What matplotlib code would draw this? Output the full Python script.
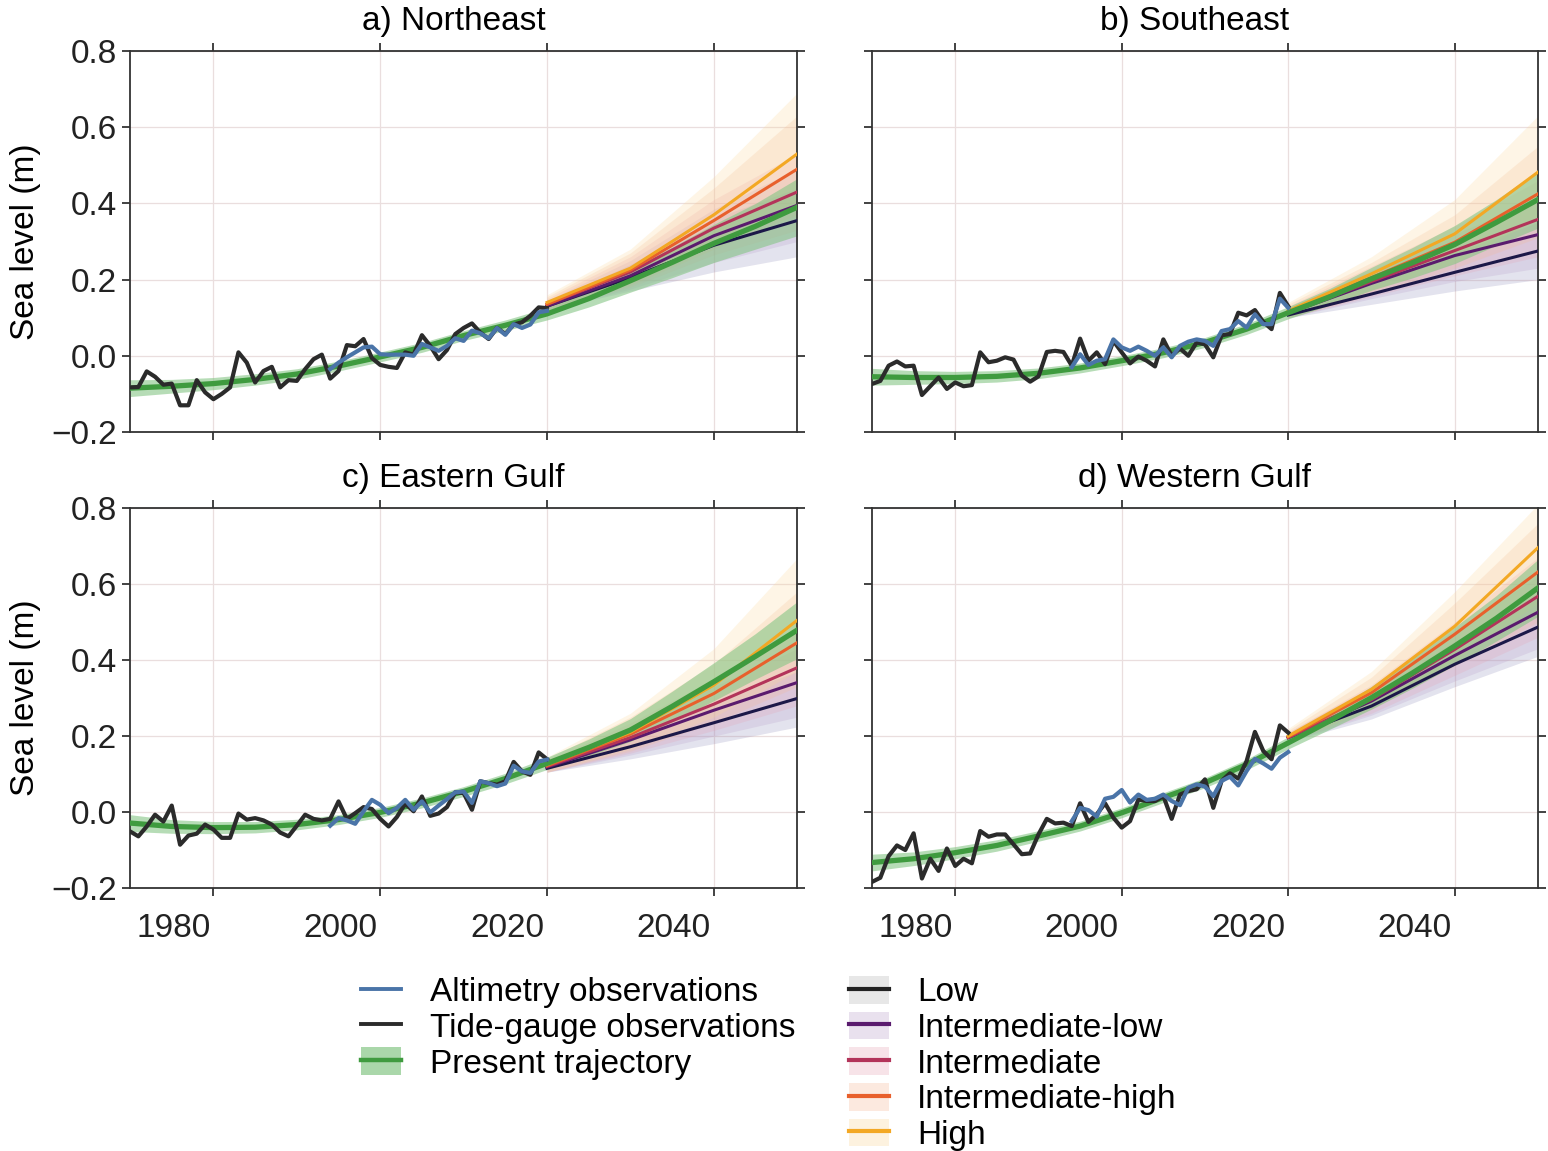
import matplotlib
matplotlib.use('Agg')
import matplotlib.pyplot as plt
import matplotlib.transforms as mtransforms
import numpy as np
from matplotlib.lines import Line2D
from matplotlib.patches import Patch
from matplotlib.legend_handler import HandlerTuple

plt.rcParams['font.family'] = ['Liberation Sans', 'DejaVu Sans']

# years
tide_years = np.arange(1970, 2021)
alt_years = np.arange(1994, 2021)
traj_years = np.arange(1970, 2051, 5)
proj_years = [2020, 2030, 2040, 2050]

# tide gauge observations (m), 1970-2020
ne_tide = [-0.083, -0.082, -0.041, -0.055, -0.076, -0.073, -0.13, -0.13, -0.064, -0.096,
           -0.114, -0.10, -0.083, 0.009, -0.018, -0.07, -0.04, -0.029, -0.083, -0.064,
           -0.066, -0.035, -0.009, 0.003, -0.06, -0.04, 0.028, 0.025, 0.044, -0.006,
           -0.024, -0.029, -0.032, 0.009, 0.003, 0.054, 0.026, -0.009, 0.015, 0.057,
           0.073, 0.085, 0.061, 0.044, 0.073, 0.057, 0.082, 0.088, 0.105, 0.127, 0.125]
se_tide = [-0.074, -0.066, -0.026, -0.015, -0.028, -0.026, -0.103, -0.08, -0.057, -0.087,
           -0.07, -0.08, -0.077, 0.009, -0.017, -0.013, -0.004, -0.01, -0.052, -0.068,
           -0.054, 0.01, 0.013, 0.01, -0.026, 0.045, -0.013, 0.009, -0.022, 0.039,
           0.009, -0.02, -0.002, -0.013, -0.028, 0.043, 0.0, 0.019, 0.0, 0.035,
           0.03, -0.004, 0.054, 0.057, 0.113, 0.106, 0.12, 0.089, 0.07, 0.165, 0.13]
eg_tide = [-0.051, -0.064, -0.038, -0.007, -0.025, 0.017, -0.086, -0.062, -0.057, -0.033,
           -0.046, -0.068, -0.068, -0.004, -0.02, -0.016, -0.022, -0.033, -0.054, -0.064,
           -0.036, -0.007, -0.018, -0.022, -0.018, 0.028, -0.018, -0.003, 0.013, 0.008,
           -0.018, -0.038, -0.013, 0.022, 0.002, 0.041, -0.01, -0.004, 0.013, 0.052,
           0.05, 0.006, 0.081, 0.076, 0.072, 0.081, 0.132, 0.107, 0.098, 0.157, 0.139]
wg_tide = [-0.184, -0.173, -0.116, -0.088, -0.1, -0.056, -0.175, -0.123, -0.155, -0.096,
           -0.142, -0.123, -0.135, -0.05, -0.065, -0.059, -0.059, -0.085, -0.111, -0.109,
           -0.059, -0.018, -0.03, -0.028, -0.037, 0.023, -0.026, -0.006, 0.023, -0.015,
           -0.041, -0.024, 0.033, 0.029, 0.029, 0.042, -0.018, 0.046, 0.055, 0.06,
           0.086, 0.011, 0.082, 0.102, 0.088, 0.134, 0.211, 0.161, 0.139, 0.228, 0.209]

# altimetry observations (m), 1994-2020
ne_alt = [-0.035, -0.018, -0.004, 0.009, 0.022, 0.024, 0.004, 0.003, 0.003, 0.003, 0.0,
          0.031, 0.022, 0.013, 0.026, 0.046, 0.039, 0.066, 0.059, 0.046, 0.073, 0.055,
          0.083, 0.073, 0.082, 0.114, 0.118]
se_alt = [-0.03, 0.004, -0.024, -0.013, -0.009, 0.043, 0.022, 0.013, 0.024, 0.013, 0.0,
          0.022, -0.004, 0.026, 0.037, 0.043, 0.039, 0.026, 0.065, 0.07, 0.091, 0.074,
          0.109, 0.083, 0.083, 0.15, 0.126]
eg_alt = [-0.036, -0.016, -0.022, -0.031, 0.002, 0.032, 0.019, -0.003, 0.011, 0.032, 0.006,
          0.028, -0.001, 0.017, 0.034, 0.052, 0.054, 0.024, 0.081, 0.076, 0.068, 0.075,
          0.122, 0.107, 0.103, 0.133, 0.138]
wg_alt = [-0.024, 0.011, 0.005, -0.012, 0.035, 0.04, 0.058, 0.025, 0.046, 0.032, 0.035,
          0.046, 0.029, 0.018, 0.064, 0.073, 0.067, 0.042, 0.082, 0.093, 0.07, 0.108,
          0.14, 0.128, 0.114, 0.143, 0.158]

# present trajectory (m), every 5 years 1970-2050
ne_traj = [-0.085, -0.08, -0.073, -0.062, -0.048, -0.027, -0.003, 0.022, 0.053, 0.08,
           0.11, 0.15, 0.197, 0.245, 0.295, 0.34, 0.39]
se_traj = [-0.055, -0.057, -0.057, -0.054, -0.046, -0.032, -0.013, 0.008, 0.035, 0.07,
           0.113, 0.155, 0.202, 0.245, 0.292, 0.35, 0.41]
eg_traj = [-0.029, -0.038, -0.041, -0.04, -0.033, -0.02, -0.001, 0.024, 0.054, 0.088,
           0.128, 0.17, 0.216, 0.278, 0.343, 0.41, 0.479]
wg_traj = [-0.133, -0.123, -0.107, -0.088, -0.063, -0.037, -0.002, 0.038, 0.077, 0.125,
           0.182, 0.24, 0.301, 0.367, 0.437, 0.51, 0.59]
traj_halfwidth = [0.022, 0.018, 0.016, 0.015, 0.014, 0.013, 0.013, 0.013, 0.013, 0.014,
                  0.016, 0.022, 0.03, 0.04, 0.05, 0.06, 0.075]

# scenario projections: rows = Low, Int-low, Intermediate, Int-high, High
scenarios = ['Low', 'Intermediate-low', 'Intermediate', 'Intermediate-high', 'High']
ne_mid = [[0.13, 0.205, 0.29, 0.355], [0.13, 0.21, 0.315, 0.395], [0.135, 0.22, 0.335, 0.43],
          [0.135, 0.225, 0.355, 0.49], [0.14, 0.23, 0.37, 0.53]]
ne_lo = [[0.12, 0.17, 0.22, 0.26], [0.12, 0.175, 0.245, 0.30], [0.12, 0.18, 0.265, 0.33],
         [0.12, 0.185, 0.28, 0.37], [0.12, 0.19, 0.29, 0.40]]
ne_hi = [[0.14, 0.24, 0.36, 0.44], [0.145, 0.25, 0.385, 0.49], [0.15, 0.26, 0.41, 0.53],
         [0.155, 0.27, 0.44, 0.63], [0.16, 0.28, 0.47, 0.69]]
se_mid = [[0.107, 0.162, 0.219, 0.275], [0.112, 0.19, 0.263, 0.318], [0.113, 0.195, 0.276, 0.358],
          [0.115, 0.205, 0.298, 0.425], [0.118, 0.215, 0.32, 0.482]]
se_lo = [[0.10, 0.135, 0.17, 0.20], [0.10, 0.15, 0.195, 0.23], [0.10, 0.155, 0.21, 0.26],
         [0.10, 0.16, 0.23, 0.31], [0.10, 0.17, 0.245, 0.36]]
se_hi = [[0.115, 0.19, 0.27, 0.35], [0.125, 0.225, 0.32, 0.41], [0.13, 0.235, 0.34, 0.46],
         [0.135, 0.245, 0.37, 0.55], [0.14, 0.26, 0.41, 0.63]]
eg_mid = [[0.115, 0.172, 0.235, 0.299], [0.118, 0.19, 0.268, 0.341], [0.12, 0.196, 0.284, 0.38],
          [0.122, 0.205, 0.312, 0.446], [0.125, 0.21, 0.334, 0.505]]
eg_lo = [[0.105, 0.14, 0.18, 0.224], [0.105, 0.15, 0.2, 0.25], [0.105, 0.155, 0.215, 0.28],
         [0.105, 0.16, 0.235, 0.33], [0.105, 0.165, 0.25, 0.37]]
eg_hi = [[0.125, 0.20, 0.29, 0.37], [0.13, 0.225, 0.33, 0.43], [0.135, 0.235, 0.35, 0.48],
         [0.14, 0.25, 0.39, 0.58], [0.145, 0.26, 0.43, 0.668]]
wg_mid = [[0.196, 0.279, 0.389, 0.487], [0.196, 0.292, 0.412, 0.526], [0.196, 0.296, 0.428, 0.568],
          [0.198, 0.314, 0.468, 0.632], [0.2, 0.323, 0.489, 0.696]]
wg_lo = [[0.185, 0.245, 0.33, 0.41], [0.185, 0.255, 0.345, 0.43], [0.185, 0.26, 0.36, 0.46],
         [0.185, 0.27, 0.385, 0.5], [0.185, 0.275, 0.4, 0.55]]
wg_hi = [[0.205, 0.31, 0.45, 0.57], [0.21, 0.33, 0.48, 0.62], [0.21, 0.335, 0.5, 0.67],
         [0.215, 0.355, 0.55, 0.76], [0.22, 0.37, 0.58, 0.81]]

titles = ['a) Northeast', 'b) Southeast', 'c) Eastern Gulf', 'd) Western Gulf']

# colours
c_tide = '#2b2b2b'
c_alt = '#4a74a8'
c_green = '#3f9b3f'
c_green_band = '#86c686'
scen_colors = ['#1c1848', '#5a1b6e', '#b3345a', '#e8602c', '#f3a824']
band_colors = ['#8e8ab8', '#b79cc9', '#e6a3b3', '#f6b996', '#fbd797']

panels = [
    (ne_tide, ne_alt, ne_traj, ne_mid, ne_lo, ne_hi),
    (se_tide, se_alt, se_traj, se_mid, se_lo, se_hi),
    (eg_tide, eg_alt, eg_traj, eg_mid, eg_lo, eg_hi),
    (wg_tide, wg_alt, wg_traj, wg_mid, wg_lo, wg_hi),
]

# axes rectangles in figure fraction (left, bottom, width, height)
rects = [
    (0.084, 0.6247, 0.431, 0.331),
    (0.5633, 0.6247, 0.4302, 0.331),
    (0.084, 0.2285, 0.431, 0.330),
    (0.5633, 0.2285, 0.4302, 0.330),
]

FS = 24

fig = plt.figure(figsize=(15.48, 11.51), dpi=100)
shift_left = mtransforms.ScaledTranslation(-40 / 100, 0, fig.dpi_scale_trans)
title_shift = mtransforms.ScaledTranslation(-10 / 100, 0, fig.dpi_scale_trans)

for i, (tide, alt, traj, mid, lo, hi) in enumerate(panels):
    ax = fig.add_axes(rects[i])
    # scenario bands
    for k in range(5):
        ax.fill_between(proj_years, lo[k], hi[k], color=band_colors[k], alpha=0.24, lw=0, zorder=1)
    # present trajectory band
    traj_lo = np.array(traj) - np.array(traj_halfwidth)
    traj_hi = np.array(traj) + np.array(traj_halfwidth)
    ax.fill_between(traj_years, traj_lo, traj_hi, color=c_green_band, alpha=0.6, lw=0, zorder=2)
    for k in range(5):
        ax.plot(proj_years, mid[k], color=scen_colors[k], lw=2.2, zorder=3)
    ax.plot(traj_years, traj, color=c_green, lw=3.8, zorder=4)
    ax.plot(tide_years, tide, color=c_tide, lw=3.0, zorder=5)
    ax.plot(alt_years, alt, color=c_alt, lw=3.0, zorder=6)

    ax.set_xlim(1970, 2050)
    ax.set_ylim(-0.2, 0.8)
    ax.set_xticks([1980, 2000, 2020, 2040])
    ax.set_yticks([-0.2, 0.0, 0.2, 0.4, 0.6, 0.8])
    ax.grid(True, color='#eadede', lw=0.9)
    ax.set_axisbelow(True)
    ax.tick_params(direction='out', length=6, width=1.2, top=True, right=True,
                   labelsize=FS, colors='#222222')
    ax.tick_params(axis='x', pad=12)
    for s in ax.spines.values():
        s.set_linewidth(1.3)
        s.set_color('#333333')
    if i < 2:
        ax.set_xticklabels([])
    else:
        for lab in ax.get_xticklabels():
            lab.set_transform(lab.get_transform() + shift_left)
    if i % 2 == 1:
        ax.set_yticklabels([])
    else:
        ax.set_ylabel('Sea level (m)', fontsize=FS, labelpad=7)
    t = ax.set_title(titles[i], fontsize=FS, pad=15)
    t.set_transform(t.get_transform() + title_shift)

# legends
obs_handles = [
    Line2D([], [], color=c_alt, lw=2.8),
    Line2D([], [], color=c_tide, lw=2.8),
    (Patch(color=c_green_band, alpha=0.7, lw=0), Line2D([], [], color=c_green, lw=3.2)),
]
obs_labels = ['Altimetry observations', 'Tide-gauge observations', 'Present trajectory']
scen_handles = [(Patch(color=band_colors[k], alpha=0.3, lw=0), Line2D([], [], color=scen_colors[k], lw=3))
                for k in range(5)]
scen_handles[0] = (Patch(color='#d8d8d8', alpha=0.6, lw=0), Line2D([], [], color='#222222', lw=3))

hmap = {tuple: HandlerTuple(ndivide=1, pad=0)}
fig.legend(obs_handles, obs_labels, loc='upper left', bbox_to_anchor=(0.214, 0.178),
           frameon=False, fontsize=FS, handlelength=1.2, handleheight=0.9, handletextpad=0.85,
           labelspacing=0.1, handler_map=hmap)
fig.legend(scen_handles, scenarios, loc='upper left', bbox_to_anchor=(0.529, 0.178),
           frameon=False, fontsize=FS, handlelength=1.2, handleheight=0.9, handletextpad=0.85,
           labelspacing=0.1, handler_map=hmap)

fig.savefig('out.png', dpi=100)
